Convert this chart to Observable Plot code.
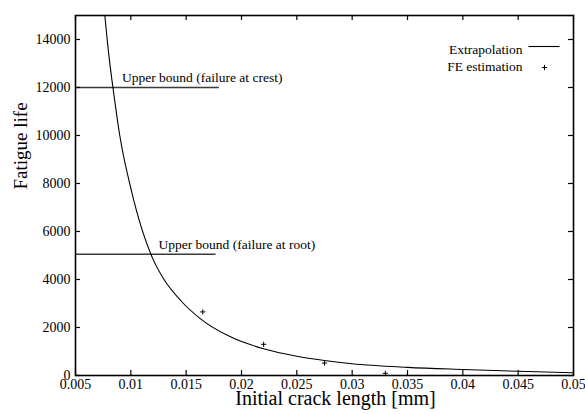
<!DOCTYPE html>
<html><head><meta charset="utf-8">
<script src="https://cdn.jsdelivr.net/npm/d3@7"></script>
<script src="https://cdn.jsdelivr.net/npm/@observablehq/plot@0.6"></script>
<style>
body{margin:0;background:#fff}
svg, svg text{font-family:"Liberation Serif","Times New Roman",serif !important}
</style>
</head><body><div id="chart"></div>
<script>
// Extrapolation curve
const curveX = [0.0075, 0.008, 0.0085, 0.009, 0.010, 0.011, 0.012, 0.013, 0.0145, 0.0163, 0.019, 0.022, 0.025, 0.0275, 0.030, 0.035, 0.040, 0.045, 0.050];
const curveY = [15750, 13400, 11600, 10000, 7800, 6100, 4850, 4000, 3125, 2362, 1610, 1112, 800, 625, 490, 340, 250, 175, 115];
// FE estimation points
const feX = [0.0165, 0.022, 0.0275, 0.033];
const feY = [2650, 1300, 520, 90];
// Upper bounds
const boundNames = ["Upper bound (failure at crest)", "Upper bound (failure at root)"];
const boundValues = [12000, 5050];
const boundStart = [0.005, 0.005];
const boundEnd = [0.018, 0.0177];
const boundLabelX = [0.0092, 0.0125];
// Ticks
const xTicks = [0.005, 0.01, 0.015, 0.02, 0.025, 0.03, 0.035, 0.04, 0.045, 0.05];
const yTicks = [0, 2000, 4000, 6000, 8000, 10000, 12000, 14000];
const legendNames = ["Extrapolation", "FE estimation"];
const xLabel = "Initial crack length [mm]";
const yLabel = "Fatigue life";

const curve = curveX.map((x, i) => ({x, y: curveY[i]}));
const fe = feX.map((x, i) => ({x, y: feY[i]}));
const bounds = boundNames.map((name, i) => ({name, value: boundValues[i], x1: boundStart[i], x2: boundEnd[i], lx: boundLabelX[i]}));

const plusSym = {draw(ctx) { const r = 2.6; ctx.moveTo(-r, 0); ctx.lineTo(r, 0); ctx.moveTo(0, -r); ctx.lineTo(0, r); }};
const lineSym = {draw(ctx) { ctx.moveTo(-15.5, 0); ctx.lineTo(15.5, 0); }};

const W = 585, H = 414, mT = 15, mL = 75, mR = 12, mB = 39;
const iw = W - mL - mR, ih = H - mT - mB, tk = 5;
const FF = "Liberation Serif";
const fmtX = d => d3.format(".3~f")(d);

const chart = Plot.plot({
  width: W, height: H,
  marginTop: mT, marginLeft: mL, marginRight: mR, marginBottom: mB,
  x: {domain: [0.005, 0.05]},
  y: {domain: [0, 15000]},
  style: {fontFamily: FF, fontSize: "14px", color: "black", background: "white", overflow: "visible"},
  marks: [
    Plot.ruleY(bounds, {y: "value", x1: "x1", x2: "x2", stroke: "#3a3a3a", strokeWidth: 1.5}),
    Plot.text(bounds, {x: "lx", y: "value", text: "name", textAnchor: "start", dy: -10, fontSize: 13.5, fontFamily: FF}),
    Plot.line(curve, {x: "x", y: "y", curve: "monotone-x", clip: true, stroke: "black", strokeWidth: 1.1}),
    Plot.dot(fe, {x: "x", y: "y", symbol: plusSym, stroke: "black", strokeWidth: 1, fill: "none"}),
    // ticks inward on all four sides
    Plot.tickX(xTicks, {x: d => d, insetTop: ih - tk, stroke: "black", strokeWidth: 1.2}),
    Plot.tickX(xTicks, {x: d => d, insetBottom: ih - tk, stroke: "black", strokeWidth: 1.2}),
    Plot.tickY(yTicks, {y: d => d, insetRight: iw - tk, stroke: "black", strokeWidth: 1.2}),
    Plot.tickY(yTicks, {y: d => d, insetLeft: iw - tk, stroke: "black", strokeWidth: 1.2}),
    Plot.axisX(xTicks, {anchor: "bottom", tickSize: 0, tickPadding: 4, tickFormat: fmtX, label: null, fontSize: 14, fontFamily: FF}),
    Plot.axisY(yTicks, {anchor: "left", tickSize: 0, tickPadding: 5, tickFormat: d => String(d), label: null, fontSize: 14, fontFamily: FF}),
    Plot.frame({stroke: "black", strokeWidth: 1.6}),
    // legend
    Plot.text([legendNames[0]], {frameAnchor: "top-right", text: d => d, textAnchor: "end", dx: -51, dy: 29, fontSize: 13.5, fontFamily: FF}),
    Plot.text([legendNames[1]], {frameAnchor: "top-right", text: d => d, textAnchor: "end", dx: -51, dy: 46, fontSize: 13.5, fontFamily: FF}),
    Plot.dot([legendNames[0]], {frameAnchor: "top-right", symbol: lineSym, stroke: "black", strokeWidth: 1.1, fill: "none", dx: -29.5, dy: 31}),
    Plot.dot([legendNames[1]], {frameAnchor: "top-right", symbol: plusSym, stroke: "black", strokeWidth: 1, fill: "none", dx: -29, dy: 52}),
    // axis titles
    Plot.text([xLabel], {frameAnchor: "bottom", text: d => d, dx: 11, dy: 29, fontSize: 20, fontFamily: FF}),
    Plot.text([yLabel], {frameAnchor: "left", text: d => d, rotate: -90, dx: -55, dy: -6, fontSize: 19, fontFamily: FF})
  ]
});
document.getElementById("chart").appendChild(chart);
</script>
</body></html>
